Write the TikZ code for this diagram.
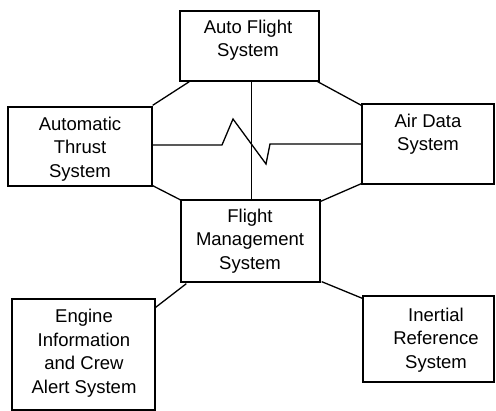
\documentclass[tikz,border=0pt]{standalone}
\usepackage{fontspec}
\setmainfont{Liberation Sans}
\usetikzlibrary{calc}
\begin{document}
\begin{tikzpicture}[x=1pt,y=-1pt,
  line width=1.3pt,
  sysbox/.style={draw, line width=1.3pt, inner sep=0pt, minimum width=#1},
  lbl/.style={align=center, font=\fontsize{18.5}{23.5}\selectfont, inner sep=0pt},
  link/.style={draw, line width=1.3pt}]
\useasboundingbox (0,0) rectangle (496,411);
% boxes
\node[sysbox=139pt, minimum height=70pt] (af) at (249.5,46) {};
\node[sysbox=144pt, minimum height=79pt] (ats) at (80,146.5) {};
\node[sysbox=132pt, minimum height=80pt] (ads) at (428,144) {};
\node[sysbox=139pt, minimum height=82pt] (fms) at (250.5,241) {};
\node[sysbox=143pt, minimum height=111pt] (eng) at (83.5,354.5) {};
\node[sysbox=131pt, minimum height=86pt] (irs) at (428.5,339) {};
% labels
\node[lbl] (afT) at (248,40) {Auto Flight\\System};
\node[lbl] (atsT) at (80,149) {Automatic\\Thrust\\System};
\node[lbl] (adsT) at (428,134) {Air Data\\System};
\node[lbl] (fmsT) at (250,241) {Flight\\Management\\System};
\node[lbl] (engT) at (84,353) {Engine\\Information\\and Crew\\Alert System};
\node[lbl] (irsT) at (436,340) {Inertial\\Reference\\System};
% octagon connectors
\draw[link] ($(af.south west)+(10,0)$) -- ($(ats.north east)+(0,-1)$);
\draw[link] ($(af.south east)+(-2,0)$) -- ($(ads.north west)+(0,2)$);
\draw[link] ($(ats.south east)+(0,-1)$) -- ($(fms.north west)+(1,1)$);
\draw[link] ($(fms.north east)+(0,2)$) -- ($(ads.south west)+(0,-1)$);
% vertical
\coordinate (vtop) at ($(af.south west)+(72,0)$);
\coordinate (vbot) at ($(fms.north west)+(71,0)$);
\draw[link] (vtop) -- (vbot);
% zigzag
\coordinate (z1) at (222,145);
\coordinate (z2) at (233,119);
\coordinate (z3) at (266,164);
\coordinate (z4) at (270,144);
\draw[link] (ats.east |- 0,145) -- (z1) -- (z2) -- (z3) -- (z4) -- (ads.west |- z4);
% lower connectors
\draw[link] ($(fms.south west)+(6,1)$) -- ($(eng.north east)+(0,9)$);
\draw[link] ($(fms.south east)+(1,-1)$) -- ($(irs.north west)+(0,3)$);
\end{tikzpicture}
\end{document}
